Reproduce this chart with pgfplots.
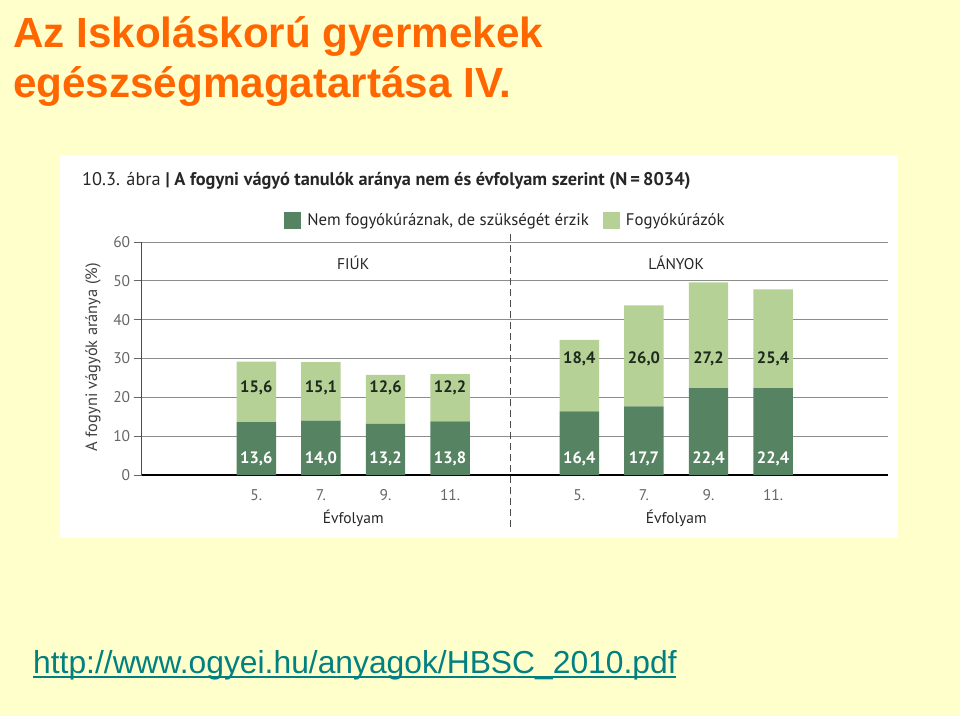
\documentclass[border=0pt]{standalone}
\usepackage{pgfplots}
\pgfplotsset{compat=1.18}
\usepackage{fontspec}
\setmainfont{PT Sans}
\newfontfamily\arialfont{Liberation Sans}
\definecolor{bg}{HTML}{FFFFCC}
\definecolor{orangetitle}{HTML}{FF6600}
\definecolor{urlteal}{HTML}{008080}
\definecolor{darkg}{HTML}{568463}
\definecolor{lightg}{HTML}{B5D196}
\definecolor{gridc}{HTML}{8C8C8C}
\definecolor{tickc}{HTML}{666666}
\definecolor{labdark}{HTML}{1E2A1E}
\tikzset{
  uplab/.style={text=labdark, font=\bfseries\fontsize{16.5}{19}\selectfont},
  lowlab/.style={text=white, font=\bfseries\fontsize{16.5}{19}\selectfont},
  grplab/.style={text=black!85, font=\fontsize{15.5}{18}\selectfont},
}
\pgfplotsset{
  samegeom/.style={
    at={(141.7pt,-475pt)}, anchor=south west,
    scale only axis, width=746pt, height=233pt,
    xmin=-0.774, xmax=10.774, ymin=0, ymax=60, clip=false,
  },
}
\begin{document}
\begin{tikzpicture}
\useasboundingbox (0pt,0pt) rectangle (960pt,-716pt);
\fill[bg] (0pt,0pt) rectangle (960pt,-716pt);
\fill[white] (60pt,-155pt) rectangle (898pt,-538pt);
\node[anchor=base west, inner sep=0pt, text=orangetitle, font=\arialfont\bfseries\fontsize{42.2}{50}\selectfont] at (13pt,-47pt) {Az Iskoláskorú gyermekek};
\node[anchor=base west, inner sep=0pt, text=orangetitle, font=\arialfont\bfseries\fontsize{42.2}{50}\selectfont] at (13pt,-97pt) {egészségmagatartása IV.};
\node[anchor=base west, inner sep=0pt, text=urlteal, font=\arialfont\fontsize{31.8}{38}\selectfont] at (33pt,-673pt) {http://www.ogyei.hu/anyagok/HBSC\_2010.pdf};
\draw[urlteal, line width=2pt] (33pt,-677pt) -- (676pt,-677pt);
\node[anchor=base west, inner sep=0pt, text=black!85, font=\fontsize{18.3}{21}\selectfont] at (82pt,-185pt) {10.3. ábra {\bfseries| A fogyni vágyó tanulók aránya nem és évfolyam szerint (N\,=\,8034)}};
\begin{axis}[
  samegeom,
  ybar stacked, bar width=39.4pt,
  axis lines=left,
  axis line style={-},
  x axis line style={black, line width=1.3pt},
  y axis line style={black!70, line width=1pt},
  ytick={0,10,...,60},
  ymajorgrids, grid style={gridc, line width=0.8pt},
  xtick={1,2,3,4,6,7,8,9},
  xticklabels={5.,7.,9.,11.,5.,7.,9.,11.},
  x tick style={draw=none},
  y tick style={black!60, line width=0.8pt},
  major tick length=8pt, tick align=outside,
  ticklabel style={font=\fontsize{15.5}{18}\selectfont, text=tickc},
  xticklabel style={yshift=-3pt},
  /pgf/number format/assume math mode=true,
  ylabel={A fogyni vágyók aránya (\%)},
  ylabel style={at={(axis description cs:-0.0653,0.506)}, anchor=center, font=\fontsize{16.4}{19}\selectfont, text=black!75},
  legend columns=2,
  legend style={at={(0.4877,1.094)}, anchor=center, draw=none, fill=none,
    font=\fontsize{16.8}{19}\selectfont, text=black!85,
    /tikz/every odd column/.append style={column sep=4pt},
    /tikz/every even column/.append style={column sep=12pt}},
  legend image code/.code={\fill[#1] (0pt,-8.5pt) rectangle (17pt,8.5pt);},
]
\addplot[fill=darkg, draw=none] coordinates {(1,13.6) (2,14.0) (3,13.2) (4,13.8) (6,16.4) (7,17.7) (8,22.4) (9,22.4)};
\addlegendentry{Nem fogyókúráznak, de szükségét érzik}
\addplot[fill=lightg, draw=none] coordinates {(1,15.6) (2,15.1) (3,12.6) (4,12.2) (6,18.4) (7,26.0) (8,27.2) (9,25.4)};
\addlegendentry{Fogyókúrázók}
\end{axis}
\begin{axis}[samegeom, hide axis]
\draw[black!70, line width=0.9pt, dash pattern=on 7pt off 4pt] (axis cs:4.94,-13.5) -- (axis cs:4.94,62.1);
\node[uplab] at (axis cs:1,22.4) {15,6};
\node[uplab] at (axis cs:2,22.4) {15,1};
\node[uplab] at (axis cs:3,22.4) {12,6};
\node[uplab] at (axis cs:4,22.4) {12,2};
\node[uplab] at (axis cs:6,30.0) {18,4};
\node[uplab] at (axis cs:7,30.0) {26,0};
\node[uplab] at (axis cs:8,30.0) {27,2};
\node[uplab] at (axis cs:9,30.0) {25,4};
\node[lowlab] at (axis cs:1,4.1) {13,6};
\node[lowlab] at (axis cs:2,4.1) {14,0};
\node[lowlab] at (axis cs:3,4.1) {13,2};
\node[lowlab] at (axis cs:4,4.1) {13,8};
\node[lowlab] at (axis cs:6,4.1) {16,4};
\node[lowlab] at (axis cs:7,4.1) {17,7};
\node[lowlab] at (axis cs:8,4.1) {22,4};
\node[lowlab] at (axis cs:9,4.1) {22,4};
\node[grplab] at (axis cs:2.5,54.6) {FIÚK};
\node[grplab] at (axis cs:7.5,54.6) {LÁNYOK};
\node[grplab] at (axis cs:2.5,-11.1) {Évfolyam};
\node[grplab] at (axis cs:7.5,-11.1) {Évfolyam};
\end{axis}
\end{tikzpicture}
\end{document}
